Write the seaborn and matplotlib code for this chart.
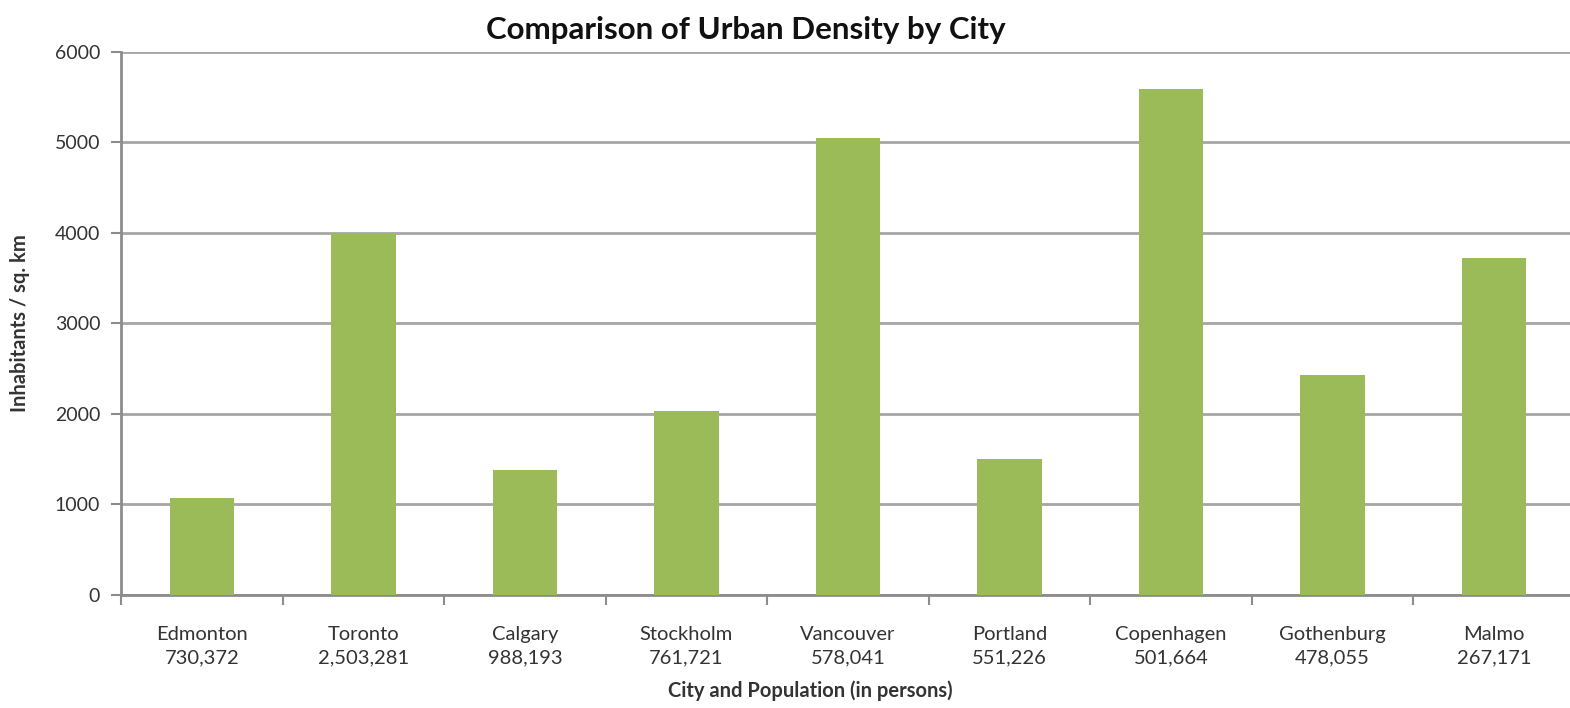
import pandas as pd
import numpy as np

import matplotlib.pyplot as plt
import seaborn as sns

# Data
cities = ["Edmonton", "Toronto", "Calgary", "Stockholm", "Vancouver",
          "Portland", "Copenhagen", "Gothenburg", "Malmo"]
population = ["730,372", "2,503,281", "988,193", "761,721", "578,041",
              "551,226", "501,664", "478,055", "267,171"]
density = [1070, 4000, 1380, 2030, 5050, 1500, 5590, 2430, 3720]

df = pd.DataFrame({
    "label": [c + "\n" + p for c, p in zip(cities, population)],
    "density": density,
})

sns.set_style("white")
plt.rcParams["font.family"] = ["Lato", "DejaVu Sans"]

fig = plt.figure(figsize=(15.7, 7.08), dpi=100)
ax = fig.add_axes([0.0771, 0.1596, 0.926, 0.767])

sns.barplot(data=df, x="label", y="density", color="#9BBB59",
            width=0.4, saturation=1, linewidth=0, ax=ax, zorder=3)

ax.set_xlim(-0.5, len(cities) - 0.5)
ax.set_ylim(0, 6000)
ax.set_yticks(range(0, 6001, 1000))

# Gridlines
ax.yaxis.grid(True, color="#A6A6A6", linewidth=2, zorder=0)
ax.set_axisbelow(True)

for side in ["top", "right"]:
    ax.spines[side].set_visible(False)
for side in ["left", "bottom"]:
    ax.spines[side].set_color("#8C8C8C")
    ax.spines[side].set_linewidth(2)

# Category tick marks at boundaries
ax.set_xticks(np.arange(-0.5, len(cities), 1), minor=True)
ax.tick_params(axis="x", which="minor", length=7, width=1.5,
               color="#8C8C8C", direction="out", bottom=True)
ax.tick_params(axis="x", which="major", length=0, pad=22,
               labelsize=14.5, labelcolor="#333333")
ax.tick_params(axis="y", length=7, width=1.5, color="#8C8C8C",
               direction="out", left=True, labelsize=14,
               labelcolor="#333333", pad=8)
for lbl in ax.get_xticklabels():
    lbl.set_linespacing(1.5)

ax.set_xlabel("")
fig.text(0.516, 0.025, "City and Population (in persons)", fontsize=14.5,
         fontweight="bold", color="#333333", ha="center", va="center")
ax.set_ylabel("Inhabitants / sq. km", fontsize=14.5, fontweight="bold",
              color="#333333", labelpad=18)

fig.suptitle("Comparison of Urban Density by City", x=0.475, y=0.978,
             fontsize=22.5, fontweight="bold", color="#111111")

plt.savefig("out.png", dpi=100)
